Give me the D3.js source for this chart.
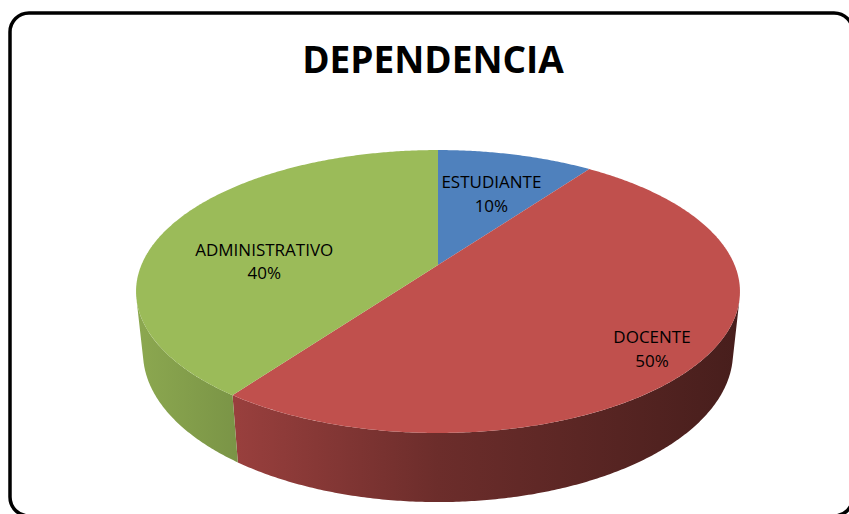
<!DOCTYPE html>
<html>
<head>
<meta charset="utf-8">
<script src="https://d3js.org/d3.v7.min.js"></script>
<style>
  body { margin: 0; background: #fff; }
  text { font-family: "Open Sans", "DejaVu Sans", sans-serif; }
</style>
</head>
<body>
<svg id="chartArea" width="849" height="514"></svg>
<script>
    // data
    const categories = ["ESTUDIANTE", "DOCENTE", "ADMINISTRATIVO"];
    const percents = [10, 50, 40];
    const colors = ["#4f81bd", "#c0504d", "#9bbb59"];
    const titleText = "DEPENDENCIA";

    // label nudges (px) from the projected centroid
    const labelNudge = [[0, -1], [46, 22], [3, 17]];

    const svg = d3.select("#chartArea");

    // frame
    svg.append("rect")
        .attr("x", 10).attr("y", 13)
        .attr("width", 843).attr("height", 503)
        .attr("rx", 19).attr("ry", 19)
        .attr("fill", "white")
        .attr("stroke", "black")
        .attr("stroke-width", 3.5);

    svg.append("text")
        .attr("x", 433).attr("y", 73)
        .attr("text-anchor", "middle")
        .attr("font-size", "37px")
        .attr("font-weight", "bold")
        .attr("fill", "black")
        .text(titleText);

    // perspective camera for the tilted pie
    const ox = 438, oy = 265;
    const R = 0.211, H = 0.0493, focal = 1405.7;
    const sinA = 0.4602, cosA = 0.888;

    function project(r, theta, h) {
        const X = r * R * Math.sin(theta);
        const Z = -r * R * Math.cos(theta);
        const depth = 1 + h * sinA - Z * cosA;
        return [ox + focal * X / depth, oy + focal * (h * cosA + Z * sinA) / depth];
    }

    function arcPoints(a0, a1, h) {
        const n = Math.max(2, Math.ceil(Math.abs(a1 - a0) / (Math.PI / 360)));
        return d3.range(n + 1).map(i => project(1, a0 + (a1 - a0) * i / n, h));
    }

    const pie = d3.pie().sort(null).value(d => d);
    const arcs = pie(percents);
    const line = d3.line();

    // gradients for the side walls (darker to the right)
    const defs = svg.append("defs");
    const shade = [[0, 0.9], [0.17, 0.79], [0.5, 0.56], [1, 0.37]];
    colors.forEach((c, i) => {
        const g = defs.append("linearGradient")
            .attr("id", "wall" + i)
            .attr("gradientUnits", "userSpaceOnUse")
            .attr("x1", 136).attr("x2", 740).attr("y1", 0).attr("y2", 0);
        shade.forEach(s => {
            g.append("stop")
                .attr("offset", s[0])
                .attr("stop-color", d3.interpolateRgb(c, "black")(1 - s[1]));
        });
    });

    // visible part of the outer wall
    const vis0 = Math.acos(-R / cosA);
    const vis1 = 2 * Math.PI - vis0;

    const chartArea = svg.append("g");

    arcs.forEach((d, i) => {
        const s = Math.max(d.startAngle, vis0);
        const e = Math.min(d.endAngle, vis1);
        if (e <= s) return;
        const pts = arcPoints(s, e, 0).concat(arcPoints(e, s, H));
        chartArea.append("path")
            .attr("d", line(pts) + "Z")
            .attr("fill", `url(#wall${i})`);
    });

    arcs.forEach((d, i) => {
        const pts = [project(0, 0, 0)].concat(arcPoints(d.startAngle, d.endAngle, 0));
        chartArea.append("path")
            .attr("d", line(pts) + "Z")
            .attr("fill", colors[i]);
    });

    // labels
    arcs.forEach((d, i) => {
        const mid = (d.startAngle + d.endAngle) / 2;
        const p = project(0.65, mid, 0);
        const x = p[0] + labelNudge[i][0];
        const y = p[1] + labelNudge[i][1];
        const t = chartArea.append("text")
            .attr("text-anchor", "middle")
            .attr("font-size", "17px")
            .attr("fill", "black");
        t.append("tspan").attr("x", x).attr("y", y).text(categories[i]);
        t.append("tspan").attr("x", x).attr("y", y + 23.5).text(percents[i] + "%");
    });
</script>
</body>
</html>
